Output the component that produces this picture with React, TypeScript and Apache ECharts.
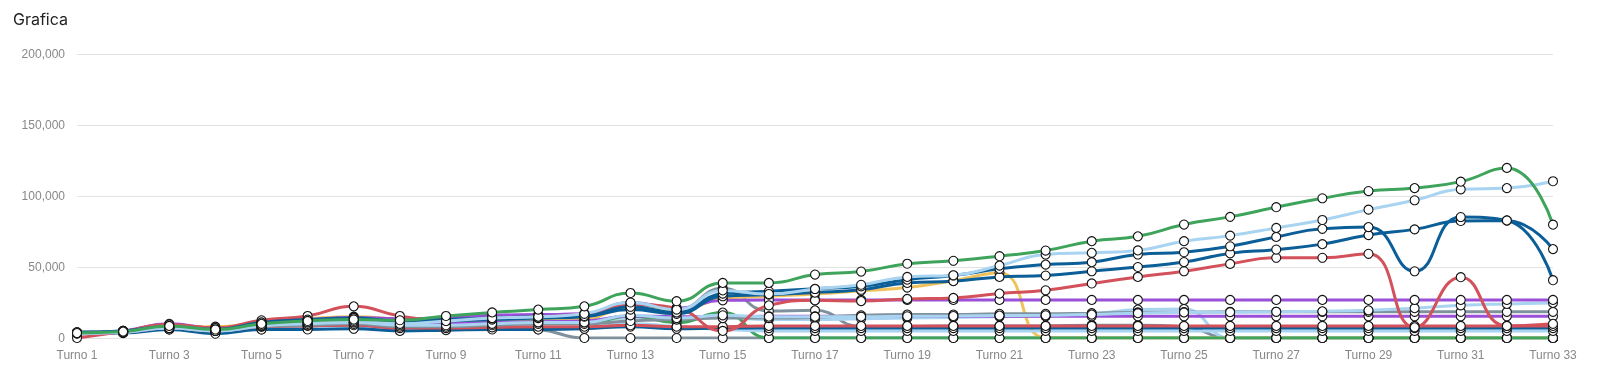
import React, { useEffect, useRef } from "react";
import * as echarts from "echarts";

const categories = [
  "Turno 1", "Turno 2", "Turno 3", "Turno 4", "Turno 5", "Turno 6", "Turno 7", "Turno 8", "Turno 9", "Turno 10",
  "Turno 11", "Turno 12", "Turno 13", "Turno 14", "Turno 15", "Turno 16", "Turno 17", "Turno 18", "Turno 19", "Turno 20",
  "Turno 21", "Turno 22", "Turno 23", "Turno 24", "Turno 25", "Turno 26", "Turno 27", "Turno 28", "Turno 29", "Turno 30",
  "Turno 31", "Turno 32", "Turno 33",
];

const yTicks = [0, 50000, 100000, 150000, 200000];

const gray2 = [4000, 4500, 7000, 4500, 7000, 8000, 9000, 7000, 7000, 7000, 6000, 0, 0, 0, 0, 0, 0, 0, 0, 0, 0, 0, 0, 0, 0, 0, 0, 0, 0, 0, 0, 0, 0];
const gray3 = [4000, 5000, 8500, 6000, 10000, 12000, 13000, 10000, 10000, 11000, 12000, 13000, 24000, 20000, 35000, 19000, 19500, 8000, 8000, 8500, 8500, 8500, 9000, 9000, 8000, 0, 0, 0, 0, 0, 0, 0, 0];
const lightBlue3 = [3500, 4000, 7000, 4500, 8000, 9500, 10500, 8500, 8500, 9500, 10000, 10500, 14000, 13000, 14500, 13000, 13000, 13500, 14000, 14500, 15000, 15500, 17000, 20000, 20500, 0, 0, 0, 0, 0, 0, 0, 0];
const yellow = [3000, 4000, 8000, 8000, 11000, 13500, 15000, 13000, 11000, 12000, 12500, 13500, 21000, 19000, 27700, 29400, 31000, 33300, 35500, 40300, 46000, 0, 0, 0, 0, 0, 0, 0, 0, 0, 0, 0, 0];
const green2 = [3000, 4000, 7000, 5500, 9000, 10500, 11500, 9500, 10000, 11000, 11500, 10000, 15500, 10800, 17900, 0, 0, 0, 0, 0, 0, 0, 0, 0, 0, 0, 0, 0, 0, 0, 0, 0, 0];
const lightBlue4 = [3000, 4000, 6000, 4000, 6000, 6500, 7000, 5500, 6000, 6500, 6500, 7000, 10000, 8000, 6000, 5000, 5000, 5000, 5000, 5000, 5000, 5000, 5000, 5000, 5000, 5000, 5000, 5000, 5000, 5000, 5000, 5000, 5000];
const blueC = [3500, 3500, 6000, 3000, 6000, 6000, 6500, 5000, 5500, 6000, 6000, 6500, 8000, 6500, 7000, 7000, 7000, 7000, 7000, 7000, 7000, 7000, 7000, 7000, 7000, 7000, 7000, 7000, 7000, 7000, 7000, 7000, 7000];
const red2 = [3000, 4000, 7000, 5000, 8000, 8500, 9000, 7000, 7000, 7500, 8000, 8000, 9000, 8000, 8000, 8500, 8500, 8500, 8500, 8500, 8500, 8500, 8500, 8500, 8500, 8500, 8500, 8500, 8500, 8500, 8500, 8500, 8500];
const purple2 = [3000, 4000, 7000, 6000, 9000, 10000, 11000, 9500, 10000, 11000, 11500, 12000, 15500, 15000, 15000, 15300, 15300, 15300, 15300, 15300, 15300, 15300, 15300, 15300, 15300, 15300, 15300, 15300, 15300, 15300, 15300, 15300, 15300];
const gray1 = [3000, 4000, 7000, 5000, 8000, 9000, 10000, 8000, 8000, 9000, 10000, 10000, 12000, 13000, 14000, 14000, 14500, 16000, 16500, 16500, 17000, 17000, 17500, 18000, 18200, 18400, 18400, 18400, 18400, 18400, 18400, 18400, 18400];
const lightBlue2 = [3000, 4500, 7500, 5000, 8500, 10000, 11000, 9000, 9000, 10000, 11000, 11000, 16000, 14000, 16000, 15000, 15000, 15000, 15300, 15500, 15800, 16000, 16500, 17500, 18000, 18200, 18500, 18800, 19500, 21000, 23000, 24000, 24700];
const purple1 = [3500, 5000, 10000, 7000, 11000, 13000, 14500, 13500, 14500, 16000, 16500, 17000, 25000, 21000, 26500, 26800, 26800, 26800, 26800, 26800, 26800, 26800, 26800, 26800, 26800, 26800, 26800, 26800, 26800, 26800, 26800, 26800, 26800];
const red1 = [0, 4500, 9500, 7000, 12500, 15500, 22300, 15500, 13000, 14000, 15000, 17000, 23500, 21000, 5000, 23000, 26500, 26000, 27500, 28200, 31300, 33600, 38400, 43000, 47000, 52200, 56500, 56500, 59300, 7500, 42800, 8500, 10000];
const blueB = [3500, 4500, 7500, 5500, 10000, 12500, 13500, 11000, 12000, 13000, 14000, 15000, 20000, 17000, 29400, 30500, 32000, 34000, 38800, 40000, 43000, 44000, 47000, 50000, 53500, 59600, 62300, 66100, 72500, 76500, 82400, 82600, 62600];
const blueA = [4000, 5000, 8000, 6000, 11000, 13000, 14000, 12000, 13000, 14000, 15000, 15500, 22000, 18000, 31300, 32900, 34600, 36400, 41100, 44000, 48700, 51700, 53400, 58800, 60400, 64600, 71200, 76900, 78100, 47000, 85200, 82800, 40700];
const lightBlue1 = [3000, 4000, 7000, 5000, 9000, 11000, 12000, 10000, 12000, 14000, 15000, 17000, 25000, 20000, 33500, 31000, 34500, 37500, 43000, 44200, 51000, 58800, 60000, 61700, 68200, 72100, 77500, 83100, 90400, 97000, 104700, 105600, 110400];
const green1 = [3500, 4500, 8500, 6000, 10000, 12000, 13000, 12500, 15500, 18000, 20000, 22300, 31700, 25900, 38800, 38800, 44700, 46800, 52300, 54400, 57600, 61600, 68200, 71600, 79900, 85300, 92100, 98400, 103500, 105600, 110100, 119800, 79800];

const GREEN = "#3fa45b";
const LIGHTBLUE = "#a9d4f1";
const DARKBLUE = "#0b5e97";
const RED = "#d2515a";
const YELLOW = "#efc25b";
const PURPLE = "#9a4fd8";
const GRAY = "#7f919c";

const seriesDefs = [
  { name: "Jugador 16", data: gray2, color: GRAY },
  { name: "Jugador 15", data: gray3, color: GRAY },
  { name: "Jugador 14", data: lightBlue3, color: LIGHTBLUE },
  { name: "Jugador 13", data: yellow, color: YELLOW },
  { name: "Jugador 12", data: green2, color: GREEN },
  { name: "Jugador 11", data: lightBlue4, color: LIGHTBLUE },
  { name: "Jugador 10", data: blueC, color: DARKBLUE },
  { name: "Jugador 9", data: red2, color: RED },
  { name: "Jugador 8", data: purple2, color: PURPLE },
  { name: "Jugador 7", data: gray1, color: GRAY },
  { name: "Jugador 6", data: lightBlue2, color: LIGHTBLUE },
  { name: "Jugador 5", data: purple1, color: PURPLE },
  { name: "Jugador 4", data: red1, color: RED },
  { name: "Jugador 3", data: blueB, color: DARKBLUE },
  { name: "Jugador 2", data: blueA, color: DARKBLUE },
  { name: "Jugador 1b", data: lightBlue1, color: LIGHTBLUE },
  { name: "Jugador 1", data: green1, color: GREEN },
];

export default function App() {
  const ref = useRef<HTMLDivElement>(null);
  useEffect(() => {
    if (!ref.current) return;
    const chart = echarts.init(ref.current, null, { renderer: "svg" });
    const lines = seriesDefs.map((d) => ({
      type: "line",
      name: d.name,
      data: d.data,
      smooth: 0.5,
      symbol: "none",
      showSymbol: false,
      lineStyle: { color: d.color, width: 3 },
      itemStyle: { color: d.color },
      z: 2,
    }));
    const dots = seriesDefs.map((d) => ({
      type: "scatter",
      name: d.name + " ",
      data: d.data,
      symbol: "circle",
      symbolSize: 9,
      itemStyle: { color: "#ffffff", borderColor: "#111111", borderWidth: 1.1, opacity: 1 },
      z: 3,
    }));
    chart.setOption({
      animation: false,
      title: {
        text: "Grafica",
        left: 8,
        top: 6,
        textStyle: { fontFamily: "Inter", fontSize: 16, fontWeight: 400, color: "#222222" },
      },
      grid: { left: 77, right: 47, top: 54, bottom: 42, containLabel: false },
      xAxis: {
        type: "category",
        data: categories,
        boundaryGap: false,
        axisLine: { show: true, lineStyle: { color: "#e2e2e2", width: 1 } },
        axisTick: { show: false },
        axisLabel: {
          interval: 1,
          color: "#888888",
          fontFamily: "Liberation Sans",
          fontSize: 12,
          margin: 11,
        },
        splitLine: { show: false },
      },
      yAxis: {
        type: "value",
        min: yTicks[0],
        max: yTicks[yTicks.length - 1],
        interval: 50000,
        axisLine: { show: false },
        axisTick: { show: false },
        axisLabel: {
          color: "#888888",
          fontFamily: "Liberation Sans",
          fontSize: 12,
          margin: 12,
          formatter: (v: number) => v.toLocaleString("en-US"),
        },
        splitLine: { show: true, lineStyle: { color: "#e2e2e2", width: 1 } },
      },
      series: [...lines, ...dots],
    });
    return () => chart.dispose();
  }, []);
  return (
    <div
      ref={ref}
      style={{ position: "fixed", left: 0, top: 0, width: 1600, height: 380 }}
    />
  );
}
